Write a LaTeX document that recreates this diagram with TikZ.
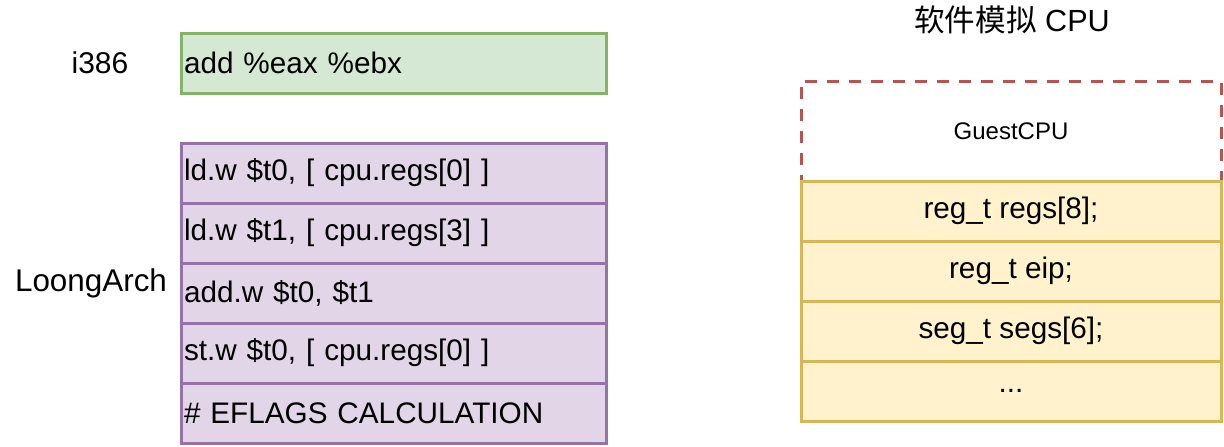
\documentclass[tikz,border=0pt]{standalone}
\usepackage{fontspec}
\setmainfont{Liberation Sans}
\newfontfamily\cjk{Noto Sans CJK SC}
\definecolor{gfill}{HTML}{D5E8D4}
\definecolor{gline}{HTML}{82B366}
\definecolor{pfill}{HTML}{E1D5E7}
\definecolor{pline}{HTML}{9673A6}
\definecolor{yfill}{HTML}{FFF2CC}
\definecolor{yline}{HTML}{D6B656}
\definecolor{rline}{HTML}{B85450}
\tikzset{
    cell/.style={draw, line width=1.5pt, outer sep=0pt, inner xsep=1.5pt,
        minimum height=30pt, font=\fontsize{14.85pt}{18pt}\selectfont},
    codecell/.style={cell, text width=209.5pt, align=left, minimum width=212.5pt},
    regcell/.style={cell, fill=yfill, draw=yline, minimum width=210pt}
}
\begin{document}
\begin{tikzpicture}[x=0.5pt, y=-0.5pt]
            \useasboundingbox (0,0) rectangle (1224,446);
            \def\lx{393.5}
            \def\rx{1011}

            % guest side
            \node[font=\fontsize{15pt}{18pt}\selectfont] (i386) at (100,63) {i386};
            \node[codecell, fill=gfill, draw=gline] (guest) at (\lx,63) {add \%eax \%ebx};

            % host side
            \node[font=\fontsize{15.7pt}{18pt}\selectfont] (la) at (91,283) {LoongArch};
            \foreach \t [count=\i] in {{ld.w \$t0, [ cpu.regs[0] ]},
                    {ld.w \$t1, [ cpu.regs[3] ]},
                    {add.w \$t0, \$t1},
                    {st.w \$t0, [ cpu.regs[0] ]},
                    {\# EFLAGS CALCULATION}} {
                \pgfmathsetmacro\y{173 + 60*(\i-1)}
                \node[codecell, fill=pfill, draw=pline] (host\i) at (\lx,\y) {\t};
            }

            % emulated cpu
            \node[font=\fontsize{15.3pt}{18pt}\selectfont] (title) at (1012,20) {{\cjk 软件模拟} CPU};
            \node[draw=rline, line width=1.5pt, dash pattern=on 6pt off 5pt,
                minimum width=210pt, minimum height=50pt,
                font=\fontsize{12pt}{14pt}\selectfont] (gcpu) at (\rx,131) {GuestCPU};
            \foreach \t [count=\i] in {{reg\_t regs[8];}, {reg\_t eip;}, {seg\_t segs[6];}} {
                \pgfmathsetmacro\y{211 + 60*(\i-1)}
                \node[regcell] (reg\i) at (\rx,\y) {\t};
            }
            \node[regcell] (reg4) at (\rx,391) {...};
        \end{tikzpicture}
\end{document}
